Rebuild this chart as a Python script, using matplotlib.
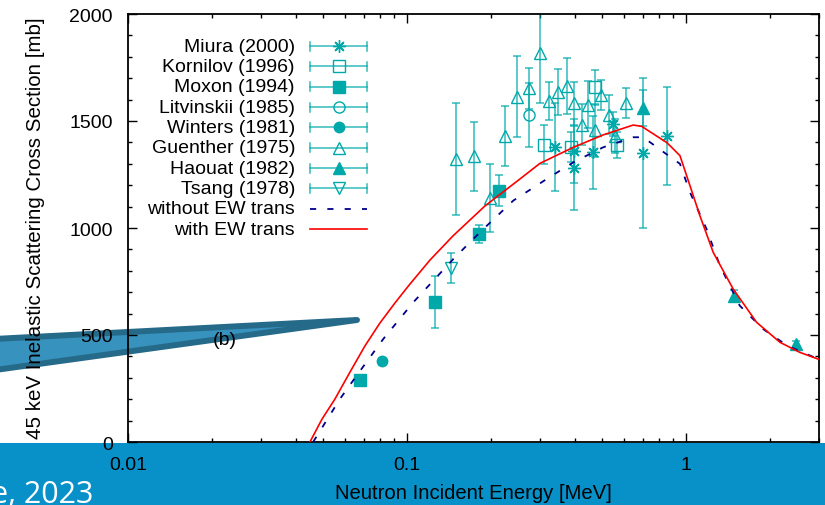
import numpy as np
import matplotlib
matplotlib.use("Agg")
import matplotlib.pyplot as plt
from matplotlib.patches import Polygon, Rectangle
from matplotlib.ticker import FixedLocator, FixedFormatter, MultipleLocator, LogLocator, NullFormatter

plt.rcParams["font.family"] = ["Liberation Sans", "DejaVu Sans"]

# measured data: energy [MeV], cross section [mb], error [mb]
miura_e = [0.339, 0.397, 0.397, 0.463, 0.546, 0.700, 0.852]
miura_s = [1377, 1360, 1280, 1354, 1486, 1349, 1429]
miura_d = [205, 150, 195, 170, 55, 350, 228]

kornilov_e = [0.311, 0.386, 0.472, 0.565]
kornilov_s = [1389, 1380, 1657, 1389]
kornilov_d = [90, 70, 80, 60]

moxon_e = [0.0679, 0.126, 0.181, 0.213]
moxon_s = [290, 656, 972, 1174]
moxon_d = [15, 121, 40, 73]

litv_e = [0.273]
litv_s = [1528]
litv_d = [150]

winters_e = [0.0816]
winters_s = [377]
winters_d = [15]

guenther_e = [0.1495, 0.1743, 0.1983, 0.2245, 0.2486, 0.2731, 0.299, 0.3237, 0.3487,
              0.3735, 0.3969, 0.4227, 0.4466, 0.4718, 0.4958, 0.5311, 0.5564, 0.6078]
guenther_s = [1322, 1335, 1140, 1431, 1614, 1653, 1816, 1595, 1634,
              1665, 1583, 1483, 1575, 1456, 1623, 1530, 1430, 1584]
guenther_d = [260, 160, 160, 140, 190, 95, 230, 88, 108,
              130, 100, 95, 110, 125, 70, 90, 80, 70]

haouat_e = [0.700, 1.49, 2.49]
haouat_s = [1559, 681, 458]
haouat_d = [84, 28, 16]

tsang_e = [0.1434]
tsang_s = [812]
tsang_d = [70]

# calculations
with_e = [0.0449, 0.0496, 0.0552, 0.0625, 0.0707, 0.0800, 0.0906, 0.1025, 0.1209, 0.1462,
          0.1904, 0.2541, 0.2997, 0.395, 0.505, 0.647, 0.694, 0.852, 0.889, 0.952,
          1.034, 1.122, 1.253, 1.477, 1.793, 2.173, 2.56, 3.0]
with_s = [0, 107, 201, 327, 449, 556, 650, 738, 850, 963,
          1103, 1229, 1302, 1377, 1435, 1481, 1475, 1400, 1377, 1338,
          1198, 1058, 886, 715, 559, 466, 419, 386]

without_e = [0.0461, 0.0575, 0.066, 0.0822, 0.1054, 0.1466, 0.1827, 0.2405, 0.317, 0.395,
             0.505, 0.647, 0.703, 0.829, 0.952, 1.034, 1.186, 1.324, 1.56, 1.89,
             2.31, 3.0]
without_s = [0, 201, 310, 481, 653, 855, 980, 1128, 1229, 1307,
             1377, 1424, 1424, 1356, 1300, 1167, 995, 824, 637, 528,
             450, 386]

xticks = [0.01, 0.1, 1]
xtick_labels = ["0.01", "0.1", "1"]
yticks = [0, 500, 1000, 1500, 2000]

CY = "#00a9a9"
W, H = 825, 506

fig = plt.figure(figsize=(W / 100, H / 100), dpi=100)
fig.patch.set_facecolor("white")

# slide decorations behind the chart
fig.add_artist(Rectangle((0, 0), 1, 62 / H, transform=fig.transFigure,
                         facecolor="#0891c9", edgecolor="none", zorder=-3))
arrow_px = [(-10, 340.2), (357, 321), (-10, 371.7)]
fig.add_artist(Polygon([(x / W, 1 - y / H) for x, y in arrow_px], closed=True,
                       transform=fig.transFigure, facecolor="#3793be",
                       edgecolor="#266a8a", linewidth=4.3, joinstyle="round",
                       zorder=-2))
fig.text(93 / W, 2.5 / H, "e, 2023", color="white", fontsize=22,
         family=["Open Sans", "DejaVu Sans"], ha="right", va="baseline")

ax = fig.add_axes([128 / W, 1 - 443 / H, 691 / W, 428 / H])
ax.set_facecolor("none")
ax.set_xscale("log")
ax.set_xlim(0.01, 3)
ax.set_ylim(0, 2000)

sets = [
    ("Miura (2000)", miura_e, miura_s, miura_d, (8, 2, 0), False, 9),
    ("Kornilov (1996)", kornilov_e, kornilov_s, kornilov_d, "s", False, 8),
    ("Moxon (1994)", moxon_e, moxon_s, moxon_d, "s", True, 8),
    ("Litvinskii (1985)", litv_e, litv_s, litv_d, "o", False, 8),
    ("Winters (1981)", winters_e, winters_s, winters_d, "o", True, 7.5),
    ("Guenther (1975)", guenther_e, guenther_s, guenther_d, "^", False, 8.5),
    ("Haouat (1982)", haouat_e, haouat_s, haouat_d, "^", True, 8),
    ("Tsang (1978)", tsang_e, tsang_s, tsang_d, "v", False, 8.5),
]

for name, e, s, d, m, filled, ms in sets:
    ax.errorbar(e, s, yerr=d, fmt="none", ecolor=CY, elinewidth=1.1,
                capsize=3, capthick=1.1, alpha=0.8, zorder=2)
    ax.plot(e, s, ls="none", marker=m, ms=ms, color=CY,
            mfc=CY if filled else "none", mew=1.0, zorder=3)

ax.plot(without_e, without_s, color="#00008b", lw=1.3, dashes=(3.4, 6.2), zorder=4)
ax.plot(with_e, with_s, color="#ff0000", lw=1.2, zorder=5)

ax.text(0.0223, 481, "(b)", fontsize=14, ha="center", va="center")

# gnuplot style key
kx_text = (295 - 128) / 691
kx0 = (310 - 128) / 691
kx1 = (367 - 128) / 691
kxm = (338.5 - 128) / 691
ktop = (443 - 47) / 428
kstep = 20.35 / 428
cap = 4.5 / 428
for i, (name, e, s, d, m, filled, ms) in enumerate(sets):
    y = ktop - i * kstep
    ax.text(kx_text, y, name, transform=ax.transAxes, fontsize=14,
            ha="right", va="center")
    ax.plot([kx0, kx1], [y, y], color=CY, lw=1.1, alpha=0.8,
            transform=ax.transAxes, clip_on=False)
    for xc in (kx0, kx1):
        ax.plot([xc, xc], [y - cap, y + cap], color=CY, lw=1.1, alpha=0.8,
                transform=ax.transAxes, clip_on=False)
    ax.plot([kxm], [y], ls="none", marker=m, ms=ms, color=CY,
            mfc=CY if filled else "none", mew=1.0, transform=ax.transAxes,
            clip_on=False)

line_keys = [("without EW trans", "#00008b", (3.4, 6.2), 1.3),
             ("with EW trans", "#ff0000", None, 1.2)]
for j, (name, c, dsh, lw) in enumerate(line_keys):
    y = ktop - (len(sets) + j) * kstep
    ax.text(kx_text, y, name, transform=ax.transAxes, fontsize=14,
            ha="right", va="center")
    ln, = ax.plot([kx0, kx1], [y, y], color=c, lw=lw,
                  transform=ax.transAxes, clip_on=False)
    if dsh:
        ln.set_dashes(dsh)

ax.xaxis.set_major_locator(FixedLocator(xticks))
ax.xaxis.set_major_formatter(FixedFormatter(xtick_labels))
ax.xaxis.set_minor_locator(LogLocator(base=10, subs=np.arange(2, 10)))
ax.xaxis.set_minor_formatter(NullFormatter())
ax.yaxis.set_major_locator(FixedLocator(yticks))
ax.yaxis.set_minor_locator(MultipleLocator(100))

ax.tick_params(which="both", direction="in", top=True, right=True,
               labelsize=14, width=1.0, colors="black")
ax.tick_params(which="major", length=6.5)
ax.tick_params(which="minor", length=3.2)
ax.tick_params(axis="x", which="major", pad=10)
ax.tick_params(axis="y", which="major", pad=11)
for sp in ax.spines.values():
    sp.set_linewidth(1.3)

fig.text(36 / W, 1 - 228 / H, "45 keV Inelastic Scattering Cross Section [mb]",
         rotation=90, fontsize=14.8, ha="center", va="center")
fig.text(473.5 / W, 1 - 494 / H, "Neutron Incident Energy [MeV]",
         fontsize=14.6, ha="center", va="center")

fig.savefig("out.png", dpi=100, facecolor="white")
